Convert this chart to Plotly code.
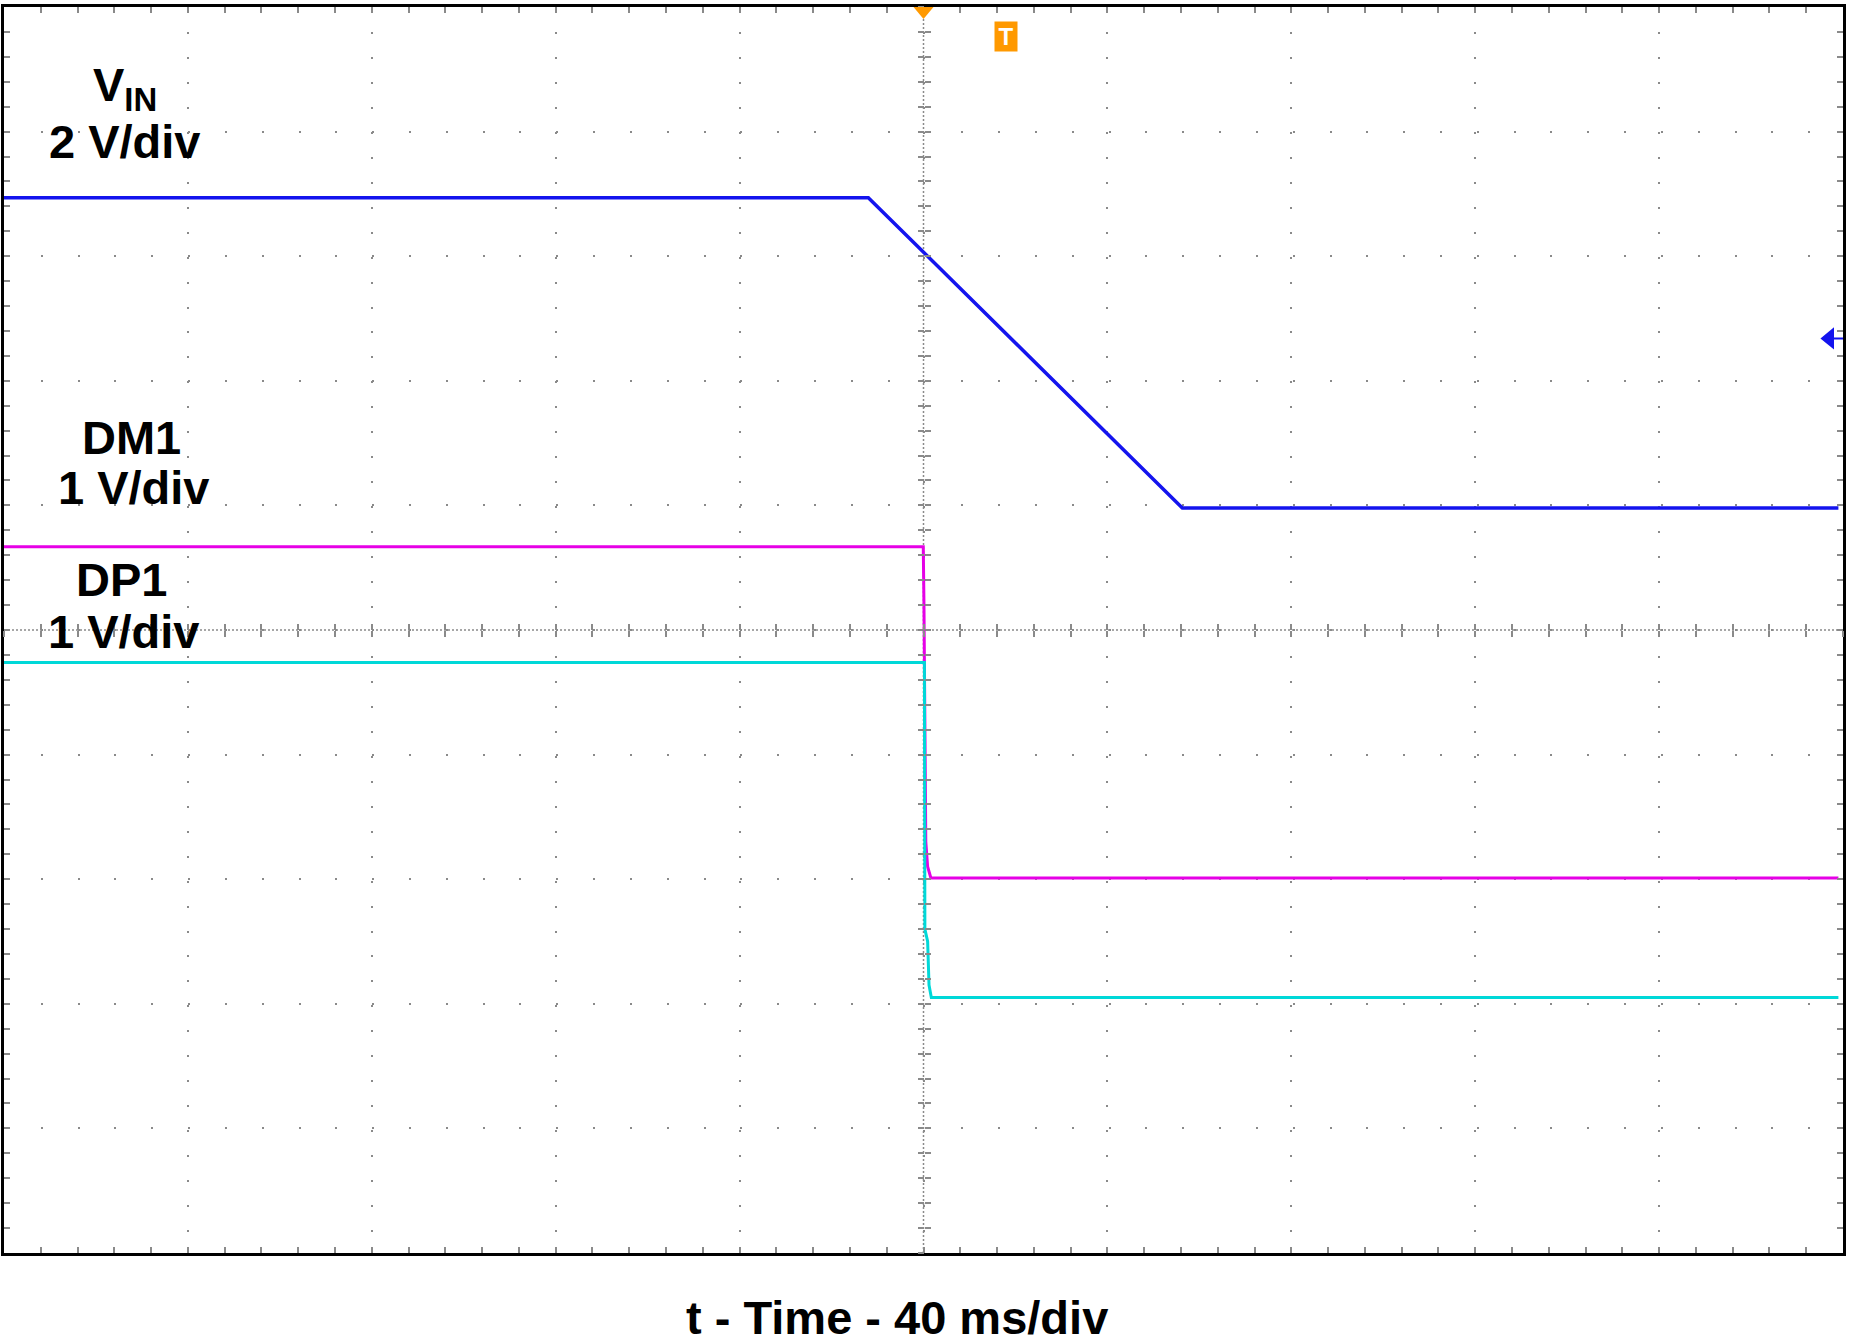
import plotly.graph_objects as go

# ---- data (time in ms, trigger at 0; amplitude in screen divisions, 0 = centre) ----
VIN_T = [-200, -12.0, 56.3, 199]
VIN_Y = [3.47, 3.47, 0.98, 0.98]

DM1_T = [-200, -0.05, 0.1, 0.5, 0.9, 1.6, 199]
DM1_Y = [0.668, 0.668, 0.2, -1.7, -1.9, -1.99, -1.99]

DP1_T = [-200, 0.2, 0.3, 0.9, 1.2, 1.7, 199]
DP1_Y = [-0.26, -0.26, -2.4, -2.5, -2.85, -2.95, -2.95]

TRIGGER_T = 0
VIN_LEVEL = 2.34          # channel level marker (div)

X_RANGE = [-200, 200]     # 40 ms/div x 10 div
Y_RANGE = [-5, 5]         # 10 div
X_DIV, Y_DIV = 40, 1
X_MINOR, Y_MINOR = 8, 0.2

LABEL_TEXTS = ["V<sub>IN</sub>", "2 V/div", "DM1", "1 V/div", "DP1", "1 V/div"]
X_TITLE = "t - Time - 40 ms/div"

# ---- page geometry (pixels) ----
W, H = 1850, 1340
ML, MR, MT, MB = 4, 5, 5, 87
PW, PH = W - ML - MR, H - MT - MB


def px(x):
    return (x - ML) / PW


def py(y):
    return (H - MB - y) / PH


FONT = "Liberation Sans, Arial, Helvetica, sans-serif"
GRID = "#8a8a8a"

fig = go.Figure()
fig.add_trace(go.Scatter(x=VIN_T, y=VIN_Y, mode="lines",
                         line=dict(color="#1414ee", width=3.5)))
fig.add_trace(go.Scatter(x=DM1_T, y=DM1_Y, mode="lines",
                         line=dict(color="#e600e6", width=3)))
fig.add_trace(go.Scatter(x=DP1_T, y=DP1_Y, mode="lines",
                         line=dict(color="#00d8d8", width=3)))

# dummy traces so that the centre tick axes are drawn
for xa, ya in [("x2", "y"), ("x3", "y"), ("x", "y2"), ("x", "y3")]:
    fig.add_trace(go.Scatter(x=[None], y=[None], xaxis=xa, yaxis=ya,
                             hoverinfo="skip", showlegend=False))

x_minor_px = PW / ((X_RANGE[1] - X_RANGE[0]) / X_MINOR)
y_minor_px = PH / ((Y_RANGE[1] - Y_RANGE[0]) / Y_MINOR)

common_x = dict(range=X_RANGE, showticklabels=False, zeroline=False)
common_y = dict(range=Y_RANGE, showticklabels=False, zeroline=False)

fig.update_layout(
    width=W, height=H,
    margin=dict(l=ML, r=MR, t=MT, b=MB, pad=0),
    paper_bgcolor="white", plot_bgcolor="white",
    showlegend=False,
    xaxis=dict(**common_x, dtick=X_DIV, tick0=0,
               showgrid=True, gridcolor=GRID, gridwidth=2,
               griddash="2px,%.3fpx" % (y_minor_px - 2),
               showline=True, linewidth=3, linecolor="black", mirror="ticks",
               ticks="inside", ticklen=6, tickcolor=GRID, tickwidth=2,
               minor=dict(dtick=X_MINOR, tick0=0, ticks="inside", ticklen=6,
                          tickcolor=GRID, tickwidth=2, showgrid=False)),
    yaxis=dict(**common_y, dtick=Y_DIV, tick0=0,
               showgrid=True, gridcolor=GRID, gridwidth=2,
               griddash="2px,%.3fpx" % (x_minor_px - 2),
               showline=True, linewidth=3, linecolor="black", mirror="ticks",
               ticks="inside", ticklen=6, tickcolor=GRID, tickwidth=2,
               minor=dict(dtick=Y_MINOR, tick0=0, ticks="inside", ticklen=6,
                          tickcolor=GRID, tickwidth=2, showgrid=False)),
    xaxis2=dict(**common_x, overlaying="x", anchor="free", position=0.5,
                showgrid=False, showline=False, dtick=X_MINOR, tick0=0,
                ticks="outside", ticklen=6, tickcolor=GRID, tickwidth=2),
    xaxis3=dict(**common_x, overlaying="x", anchor="free", position=0.5,
                showgrid=False, showline=False, dtick=X_MINOR, tick0=0,
                ticks="inside", ticklen=6, tickcolor=GRID, tickwidth=2),
    yaxis2=dict(**common_y, overlaying="y", anchor="free", position=0.5,
                showgrid=False, showline=False, dtick=Y_MINOR, tick0=0,
                ticks="outside", ticklen=6, tickcolor=GRID, tickwidth=2),
    yaxis3=dict(**common_y, overlaying="y", anchor="free", position=0.5,
                showgrid=False, showline=False, dtick=Y_MINOR, tick0=0,
                ticks="inside", ticklen=6, tickcolor=GRID, tickwidth=2),
)

# centre cross lines (dense dotted)
fig.add_shape(type="line", xref="x", yref="y", x0=X_RANGE[0], x1=X_RANGE[1], y0=0, y1=0,
              line=dict(color=GRID, width=1.5, dash="2px,2px"), layer="below")
fig.add_shape(type="line", xref="x", yref="y", x0=0, x1=0, y0=Y_RANGE[0], y1=Y_RANGE[1],
              line=dict(color=GRID, width=1.5, dash="2px,2px"), layer="below")

# trigger position marker (top)
fig.add_shape(type="path", xref="x", yref="paper", xsizemode="pixel", ysizemode="pixel",
              xanchor=TRIGGER_T, yanchor=1, path="M-10,0 L10,0 L0,-12 Z",
              fillcolor="#ff9900", line=dict(width=0))
# channel level marker (right)
fig.add_shape(type="path", xref="paper", yref="y", xsizemode="pixel", ysizemode="pixel",
              xanchor=1, yanchor=VIN_LEVEL, path="M-21,0 L-10,9 L-10,-9 Z M-10,0 L0,0",
              fillcolor="#1414ee", line=dict(color="#1414ee", width=2))

# trigger "T" badge
fig.add_annotation(xref="paper", yref="paper", x=px(1007), y=py(34.5),
                   xanchor="center", yanchor="middle",
                   text="<b>T</b>", showarrow=False, bgcolor="#ff9900",
                   width=18, height=25, borderpad=2,
                   font=dict(family=FONT, size=24, color="white"))

LABEL_FONT = dict(family=FONT, size=47, color="black", weight="bold")
label_pos = [(125, 54, "top"), (125.5, 139.5, "middle"), (132, 436, "middle"),
             (134.5, 486.5, "middle"), (121.5, 578.5, "middle"), (124.5, 630.5, "middle")]
for txt, (lx, ly, ya) in zip(LABEL_TEXTS, label_pos):
    fig.add_annotation(xref="paper", yref="paper", x=px(lx), y=py(ly),
                       xanchor="center", yanchor=ya, text=txt, showarrow=False,
                       font=LABEL_FONT)

fig.add_annotation(xref="paper", yref="paper", x=px(898), y=py(1318),
                   xanchor="center", yanchor="middle", text=X_TITLE, showarrow=False,
                   font=LABEL_FONT)

# the page body has a default 8px margin; remove it so the figure fills the window
fig.write_html("out.html", config={"displayModeBar": False},
               post_script="document.body.style.margin='0px';")
